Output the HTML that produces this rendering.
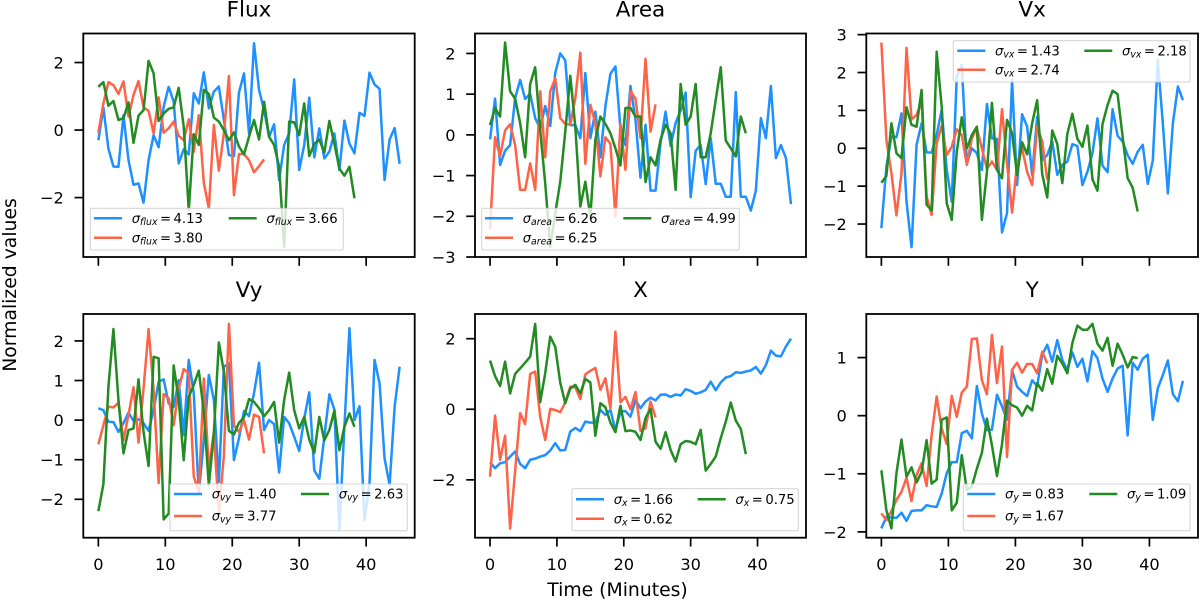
<!DOCTYPE html>
<html lang="en">
<head>
<meta charset="utf-8">
<title>Normalized values over time</title>
<style>
html,body{margin:0;padding:0;background:#fff;width:1200px;height:600px;overflow:hidden}
svg{display:block}
text{font-family:"DejaVu Sans","Liberation Sans",sans-serif;fill:#000}
</style>
</head>
<body>
<svg id="figure" xmlns="http://www.w3.org/2000/svg" width="1200" height="600" viewBox="0 0 1200 600">
  <rect x="0" y="0" width="1200" height="600" fill="#fff"></rect>
  <text transform="translate(16,285) rotate(-90)" text-anchor="middle" font-size="18.8">Normalized values</text>
  <text x="617.5" y="596" text-anchor="middle" font-size="18.8">Time (Minutes)</text>
</svg>
<script>
const TIME_STEP = 0.75;
const xTicks = [0, 10, 20, 30, 40];

const fluxBlue = [-0.3,0.67,-0.55,-1.08,-1.09,0.44,-0.89,-1.62,-1.58,-2.15,-0.89,-0.15,-0.51,0.69,1.28,0.84,-0.99,-0.57,-0.72,1.09,0.79,1.71,0.64,1.14,1.29,0.3,-0.74,-0.77,1.11,1.68,-0.1,2.57,1.19,0.59,-0.2,0.17,-1.48,-0.44,-0.1,1.5,-1.18,-0.44,0.96,-0.81,0.05,-0.84,-0.64,-0.1,-1.18,0.28,-0.4,-0.69,0.51,0.42,1.7,1.35,1.22,-1.48,-0.28,0.06,-1.0];
const fluxRed = [-0.08,0.79,1.42,1.33,1.07,1.44,0.4,1.04,1.45,0.67,0.57,-0.1,0.97,-0.08,0.05,0.25,-0.17,-0.3,0.32,-0.64,0.44,-1.56,-2.32,0.15,-1.2,-0.1,1.6,-1.93,-0.71,-0.71,-0.89,-1.25,-1.07,-0.87];
const fluxGreen = [1.28,1.42,0.72,0.86,0.3,0.35,0.82,-0.38,0.43,0.59,2.05,1.68,0.27,0.49,0.63,0.67,1.25,0.1,-2.37,-0.12,-0.44,1.19,1.07,0.37,0.25,0,-0.3,-0.07,-0.49,-0.72,-0.2,0.3,-0.28,0.84,-0.2,-0.44,-1.09,-3.46,0.25,0.23,-0.15,0.79,-0.77,-0.41,-0.28,-0.67,0.27,-0.4,-1.14,-1.35,-1.09,-2.02];
const fluxTicks = [-2, 0, 2];
const fluxRange = [-3.76, 2.86];
const fluxSigmas = ["4.13", "3.80", "3.66"];

const areaBlue = [-0.11,0.89,-0.74,-0.39,-0.25,0.9,1.35,0.88,1.01,0.41,0.16,0.71,0.22,1.52,2.0,1.83,0.24,0.24,-0.08,1.52,-0.08,0.57,-0.55,0.7,1.5,1.68,0.16,-0.25,1.2,0.37,-1.05,0.25,-1.37,-1.37,-0.2,0.57,-0.27,0.29,0.6,1.04,-1.53,-0.39,-0.25,-1.21,-0.08,-1.2,-1.2,-1.52,-1.52,1.05,-1.52,-1.52,-1.86,-1.37,0.41,-0.08,1.2,-0.57,-0.25,-0.57,-1.7];
const areaRed = [-2.32,-0.06,-0.53,0.11,0.26,-0.25,-1.35,-1.35,-0.7,-1.35,1.07,-0.55,1.07,1.39,0.41,0.27,0.25,0.9,2.02,-0.71,0.74,0.29,-1.02,-0.06,-0.22,-2.01,0.27,-0.86,1.07,0.89,-0.08,1.87,0.08,0.75];
const areaGreen = [0.24,0.66,0.45,2.27,1.07,0.89,0.29,-0.55,1.25,1.66,0.12,-1.19,-2.75,-1.93,-1.15,0.08,1.45,0.2,-1.76,-1.15,-2.01,-0.12,0.45,0.27,0.04,-0.33,-0.75,0.66,0.66,0.45,0.45,-1.16,-0.55,-0.75,-0.12,0.25,0.04,-1.35,1.25,0.25,0.45,1.25,-0.55,-0.55,0.04,0.86,1.66,-0.14,-0.33,-0.53,0.45,0.04];
const areaTicks = [-3, -2, -1, 0, 1, 2];
const areaRange = [-3.0, 2.49];
const areaSigmas = ["6.26", "6.25", "4.99"];

const vxBlue = [-2.11,-0.48,0.31,0.29,0.92,-1.41,-2.61,0.09,0.66,-0.11,-0.11,0.35,1.01,-0.57,-1.41,1.89,2.2,-0.4,0,-0.13,-0.57,1.17,0.26,0.25,-2.22,-1.71,1.8,-0.97,0.9,0.57,-0.7,0.83,-0.31,-0.18,0.18,-0.7,-0.44,-0.35,0.11,0.06,-0.97,-0.62,-0.13,0.79,-0.46,-0.63,1.03,0.33,0.18,-0.18,-0.41,-0.09,0.09,-0.94,-0.33,2.33,0.66,-1.19,0.66,1.63,1.27];
const vxRed = [2.79,0.22,-0.66,-1.77,-0.66,2.65,0.76,0.88,1.23,-1.27,-1.76,0.13,0.59,-0.18,0.04,0.5,0.35,-0.44,0.26,0.53,0,-0.54,-0.35,-0.57,1.03,-0.4,-1.7,-0.4,0,-0.62,-0.97,0.57,0.18,-0.83];
const vxGreen = [-0.91,-0.73,0.66,-0.13,-0.26,1.08,0.62,0.57,1.54,-1.49,-1.64,2.55,1.1,-1.45,-1.89,-0.09,0.82,0,0.35,0.57,-1.89,-0.62,1.2,-0.57,-0.79,0.75,0.4,-0.7,0.16,-0.16,0.66,1.27,-0.68,-1.3,0.47,0.11,-0.92,0.38,0.91,0.25,0.04,0.6,-0.82,-1.12,0.64,1.14,1.52,1.43,0.31,-0.79,-1.04,-1.67];
const vxTicks = [-2, -1, 0, 1, 2, 3];
const vxRange = [-2.87, 3.03];
const vxSigmas = ["1.43", "2.74", "2.18"];

const vyBlue = [0.3,0.25,-0.04,-0.05,-0.3,-0.08,0.19,-0.02,0.02,-0.08,-0.27,0.25,0.97,1.03,0.42,0.34,1.01,-0.38,1.52,0.68,-1.86,-0.51,1.14,0.51,-1.56,1.35,1.43,-1.01,-0.46,0.23,0.1,0.68,1.45,-0.25,0,-0.1,-1.32,0.08,-0.08,-0.42,-0.78,0.04,0.7,-1.27,-1.48,-0.42,0.65,0.27,-2.76,-0.17,2.32,0,0.35,-2.53,-1.6,1.52,0.93,-0.97,-1.64,0.34,1.35];
const vyRed = [-0.61,-0.13,0.34,0.32,0.44,-0.51,0.13,0.83,-0.57,0.8,2.3,0.76,-1.59,0.66,0.55,-0.13,0.8,1.29,1.18,-1.43,-1.81,1.05,-1.25,-0.3,-2.36,-0.89,2.43,-0.13,-0.3,0,-0.49,0.14,0.08,-0.84];
const vyGreen = [-2.3,-1.62,0.84,2.3,0.51,-0.84,-0.25,-0.21,1.03,-0.3,-1.16,1.6,1.56,-2.51,-2.36,1.38,0.51,-1.01,0.59,0.89,1.25,0.21,-1.65,-0.34,1.96,1.22,-0.27,-0.36,-0.07,0.07,0.53,0.46,0.3,0.1,0.25,0.46,-0.57,0.51,1.2,0.25,-0.21,0.08,-0.49,-0.83,0.08,-0.51,-0.25,0.24,-0.76,-0.17,0.17,-0.17];
const vyTicks = [-2, -1, 0, 1, 2];
const vyRange = [-2.97, 2.68];
const vySigmas = ["1.40", "3.77", "2.63"];

const xBlue = [-1.5,-1.67,-1.53,-1.5,-1.34,-1.2,-1.55,-1.67,-1.43,-1.4,-1.34,-1.3,-1.17,-0.96,-1.17,-1.15,-0.63,-0.53,-0.62,-0.35,-0.38,-0.38,-0.02,-0.16,-0.02,-0.6,-0.07,-0.05,-0.21,0.26,0.03,0.22,0.33,0.25,0.41,0.42,0.35,0.42,0.39,0.57,0.52,0.44,0.48,0.55,0.78,0.54,0.76,0.9,0.94,1.05,1.03,1.07,1.1,1.2,1.01,1.25,1.66,1.52,1.5,1.78,2.0];
const xRed = [-1.91,-0.18,-1.43,-0.75,-3.38,-1.75,-0.11,-0.42,1.0,1.07,-0.21,-0.87,0.01,-0.02,-0.08,0.19,0.64,0.62,0.29,0.99,1.09,1.17,0.55,0.88,0.03,2.2,0.2,0.35,0,0.49,-0.61,-0.54,0.22,-0.23];
const xGreen = [1.38,0.94,0.66,1.35,0.45,1.0,1.16,1.32,1.49,2.42,0.2,1.02,2.06,1.77,0.75,0.17,0.59,0.69,0.45,0.86,0.76,-0.75,0.17,0.06,-0.38,-0.65,0.1,-0.62,-0.6,-0.64,-0.87,-0.25,0.01,-0.92,-1.12,-0.65,-1.15,-1.48,-0.99,-0.9,-0.92,-0.99,-0.58,-1.74,-1.55,-1.34,-0.82,-0.35,0.19,-0.32,-0.56,-1.27];
const xValueTicks = [-2, 0, 2];
const xValueRange = [-3.64, 2.7];
const xSigmas = ["1.66", "0.62", "0.75"];

const yBlue = [-1.94,-1.74,-1.75,-1.76,-1.67,-1.81,-1.64,-1.63,-1.63,-1.54,-1.56,-1.57,-1.34,-0.99,-0.8,-0.8,-0.3,-0.26,-0.39,0.51,0.04,-0.25,-0.24,0.36,0.16,-0.07,0.78,0.5,0.41,0.34,0.61,0.51,1.05,1.22,0.93,1.3,0.96,0.79,1.09,0.84,0.98,0.59,1.11,0.99,0.64,0.41,0.64,0.81,0.86,-0.34,0.91,0.79,0.98,1.05,-0.07,0.47,0.7,0.95,0.37,0.25,0.6];
const yRed = [-1.68,-1.8,-1.64,-1.45,-1.31,-1.07,-1.47,-1.02,-0.82,-1.21,-0.33,0.33,-0.22,-0.49,0.34,-0.02,0.4,0.5,1.32,1.33,0.61,0.37,1.39,0.56,1.19,-0.71,0.79,0.91,0.74,0.89,0.89,0.73,1.1,0.9];
const yGreen = [-0.94,-1.63,-1.94,-0.99,-0.41,-1.05,-0.89,-1.15,-0.97,-0.42,-1.17,-1.1,-0.07,-0.03,-1.63,-1.5,-0.68,-1.28,-1.22,-0.91,-0.64,-0.05,-0.51,-1.04,-0.49,0.26,0.18,0.14,0,0.17,0.09,0.56,0.43,0.8,0.55,1.03,0.9,0.73,1.25,1.55,1.48,1.48,1.58,1.24,1.12,1.34,0.86,1.24,1.05,0.83,1.01,0.99];
const yValueTicks = [-2, -1, 0, 1];
const yValueRange = [-2.1, 1.75];
const ySigmas = ["0.83", "1.67", "1.09"];

const SVG_NS = "http://www.w3.org/2000/svg";
const figure = document.getElementById("figure");
const COLORS = ["#1e90ff", "#ff6347", "#228b22"];
const SERIES_NAMES = ["blue", "tomato", "green"];
const X_RANGE = [-2.25, 47.25];
const TICK_LEN = 8.8;
const FRAME_W = 1.8;

function mk(parent, tag, attrs, txt) {
  const el = document.createElementNS(SVG_NS, tag);
  for (const k in attrs) el.setAttribute(k, attrs[k]);
  if (txt !== undefined) el.textContent = txt;
  parent.appendChild(el);
  return el;
}

function drawPanel(p, idx) {
  const g = mk(figure, "g", {});
  
  

  const sx = v => p.left + (v - X_RANGE[0]) / (X_RANGE[1] - X_RANGE[0]) * (p.right - p.left);
  const sy = v => p.bottom - (v - p.range[0]) / (p.range[1] - p.range[0]) * (p.bottom - p.top);

  const title = mk(g, "text", {x: (p.left + p.right) / 2, y: p.top - 17, "text-anchor": "middle", "font-size": 21.5}, p.title);
  
  

  const clipId = "clip-" + idx;
  const defs = mk(g, "defs", {});
  const clip = mk(defs, "clipPath", {id: clipId});
  mk(clip, "rect", {x: p.left, y: p.top, width: p.right - p.left, height: p.bottom - p.top});

  const lines = mk(g, "g", {"clip-path": "url(#" + clipId + ")"});
  
  
  p.series.forEach((vals, s) => {
    const pts = vals.map((v, i) => sx(i * TIME_STEP).toFixed(2) + "," + sy(v).toFixed(2)).join(" ");
    const line = mk(lines, "polyline", {points: pts, fill: "none", stroke: COLORS[s], "stroke-width": 2.5, "stroke-linejoin": "round"});
    
    
  });

  // legend
  const L = p.legend;
  const leg = mk(g, "g", {});
  
  
  const box = mk(leg, "rect", {x: L.x0, y: L.y0, width: L.x1 - L.x0, height: L.y1 - L.y0, rx: 1.5, fill: "#fff", "fill-opacity": 0.8, stroke: "#ccc", "stroke-opacity": 0.8, "stroke-width": 1.1});
  
  
  const slots = [[L.c1, L.r1], [L.c1, L.r2], [L.c2, L.r1]];
  slots.forEach((slot, s) => {
    const handle = mk(leg, "line", {x1: slot[0], x2: slot[0] + 28, y1: slot[1], y2: slot[1], stroke: COLORS[s], "stroke-width": 2.5});
    
    
    const t = mk(leg, "text", {x: slot[0] + 37.7, y: slot[1] + 4.7, "font-size": 13.2});
    
    
    mk(t, "tspan", {"font-style": "italic"}, "σ");
    mk(t, "tspan", {"font-style": "italic", "font-size": 9.3, dy: 2}, p.sub);
    mk(t, "tspan", {dy: -2, dx: 2.5}, "=");
    mk(t, "tspan", {dx: 2.5}, p.sigmas[s]);
  });

  // frame
  const frame = mk(g, "rect", {x: p.left, y: p.top, width: p.right - p.left, height: p.bottom - p.top, fill: "none", stroke: "#000", "stroke-width": FRAME_W});
  
  

  // x ticks
  xTicks.forEach(v => {
    const tick = mk(g, "line", {x1: sx(v), x2: sx(v), y1: p.bottom, y2: p.bottom + TICK_LEN, stroke: "#000", "stroke-width": 1.7});
    
    
    if (p.showX) {
      const lab = mk(g, "text", {x: sx(v), y: p.bottom + 32.5, "text-anchor": "middle", "font-size": 16.2}, String(v));
      
      
    }
  });

  // y ticks
  p.ticks.forEach(v => {
    const tick = mk(g, "line", {x1: p.left - TICK_LEN, x2: p.left, y1: sy(v), y2: sy(v), stroke: "#000", "stroke-width": 1.7});
    
    
    const lab = mk(g, "text", {x: p.left - 19.5, y: sy(v) + 5.9, "text-anchor": "end", "font-size": 16.2}, (v < 0 ? "\u2212" + (-v) : String(v)));
    
    
  });
}

const TOP_T = 33.5, TOP_B = 257, BOT_T = 314, BOT_B = 537.7;
const panels = [
  {key: "flux", title: "Flux", sub: "flux", left: 83.3, right: 414.7, top: TOP_T, bottom: TOP_B, showX: false,
   series: [fluxBlue, fluxRed, fluxGreen], ticks: fluxTicks, range: fluxRange, sigmas: fluxSigmas,
   legend: {x0: 90.3, x1: 343.3, y0: 208.3, y1: 250, c1: 94, c2: 228.7, r1: 218.3, r2: 237.7}},
  {key: "area", title: "Area", sub: "area", left: 475, right: 806, top: TOP_T, bottom: TOP_B, showX: false,
   series: [areaBlue, areaRed, areaGreen], ticks: areaTicks, range: areaRange, sigmas: areaSigmas,
   legend: {x0: 481.7, x1: 739.3, y0: 208.3, y1: 250, c1: 485, c2: 623.3, r1: 218.3, r2: 237.7}},
  {key: "vx", title: "Vx", sub: "vx", left: 866.3, right: 1198, top: TOP_T, bottom: TOP_B, showX: false,
   series: [vxBlue, vxRed, vxGreen], ticks: vxTicks, range: vxRange, sigmas: vxSigmas,
   legend: {x0: 953.3, x1: 1190, y0: 40.7, y1: 82, c1: 957.3, c2: 1084.3, r1: 50.7, r2: 69.7}},
  {key: "vy", title: "Vy", sub: "vy", left: 83.3, right: 414.7, top: BOT_T, bottom: BOT_B, showX: true,
   series: [vyBlue, vyRed, vyGreen], ticks: vyTicks, range: vyRange, sigmas: vySigmas,
   legend: {x0: 170, x1: 407.3, y0: 484, y1: 530.7, c1: 174, c2: 301, r1: 494, r2: 516}},
  {key: "x", title: "X", sub: "x", left: 475, right: 806, top: BOT_T, bottom: BOT_B, showX: true,
   series: [xBlue, xRed, xGreen], ticks: xValueTicks, range: xValueRange, sigmas: xSigmas,
   legend: {x0: 572, x1: 798.3, y0: 488.7, y1: 530.7, c1: 576, c2: 697.7, r1: 499.3, r2: 518.7}},
  {key: "y", title: "Y", sub: "y", left: 866.3, right: 1198, top: BOT_T, bottom: BOT_B, showX: true,
   series: [yBlue, yRed, yGreen], ticks: yValueTicks, range: yValueRange, sigmas: ySigmas,
   legend: {x0: 963.3, x1: 1190, y0: 484, y1: 530.7, c1: 967.3, c2: 1089.3, r1: 494, r2: 516}}
];
panels.forEach(drawPanel);
</script>
</body>
</html>
